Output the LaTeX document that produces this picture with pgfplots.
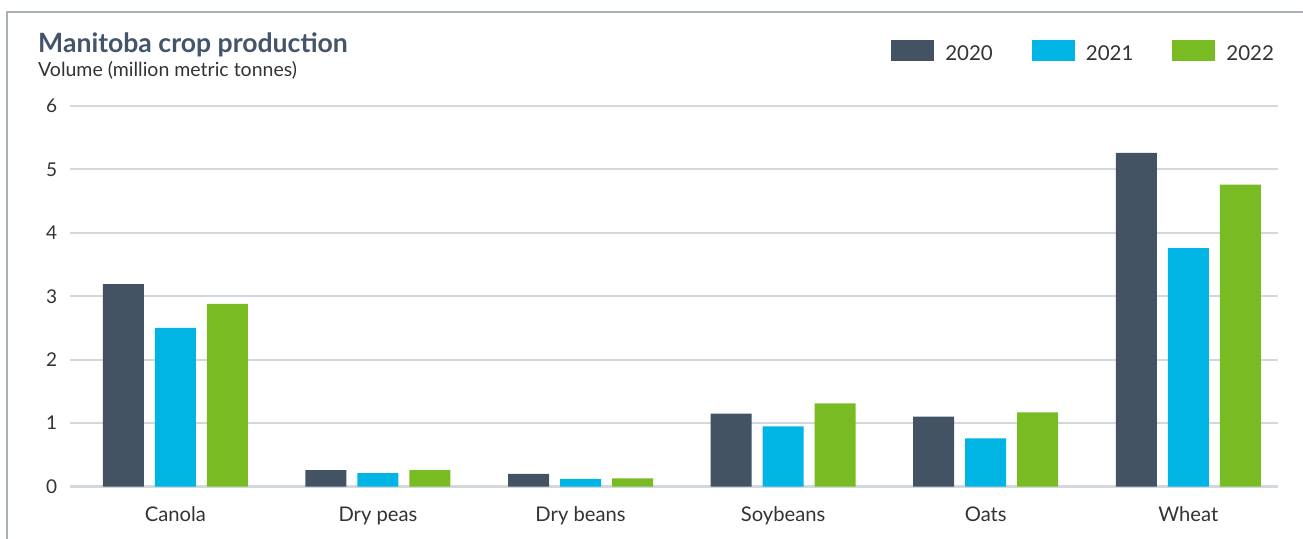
\documentclass[border=0pt]{standalone}
\usepackage{pgfplots}
\pgfplotsset{compat=1.18}
\usepackage{fontspec}
\setmainfont{Lato}
\definecolor{c20}{HTML}{435363}
\definecolor{c21}{HTML}{00B4E4}
\definecolor{c22}{HTML}{78BB22}
\definecolor{gridc}{HTML}{D2D9DE}
\definecolor{framec}{HTML}{A9B1B8}
\definecolor{titlec}{HTML}{44546A}
\definecolor{txt}{HTML}{333333}
\pgfplotsset{mylegend/.style={legend image code/.code={\fill[##1] (0bp,-7bp) rectangle (43bp,14bp);}}}
\begin{document}
\begin{tikzpicture}
\useasboundingbox (0bp,0bp) rectangle (1303bp,539bp);
\draw[framec, line width=1.5bp] (7bp,0bp) -- (7bp,527bp) -- (1303bp,527bp);
\node[anchor=base west, inner sep=0pt, font=\fontsize{26.6bp}{30bp}\selectfont\bfseries, text=titlec] at (38bp,486bp) {Manitoba crop production};
\node[anchor=base west, inner sep=0pt, font=\fontsize{19.5bp}{22bp}\selectfont, text=txt] at (38bp,462bp) {Volume (million metric tonnes)};
\begin{axis}[at={(70bp,52.5bp)}, anchor=south west, scale only axis,
  width=1208.5bp, height=380.5bp,
  ybar=11bp, bar width=41bp,
  xmin=-0.52, xmax=5.445, ymin=0, ymax=6,
  xtick={0,...,5}, xticklabels={Canola,Dry peas,Dry beans,Soybeans,Oats,Wheat},
  ytick={0,...,6},
  axis line style={draw=none}, tick style={draw=none},
  ymajorgrids, grid style={gridc, line width=2bp},
  axis on top=false,
  clip=false,
  tick label style={font=\fontsize{19bp}{22bp}\selectfont, text=txt},
  /pgf/number format/assume math mode=true,
  yticklabel style={anchor=east, inner sep=0pt, xshift=-12.7bp},
  xticklabel style={anchor=base, inner sep=0pt, yshift=-31bp, font=\fontsize{20.2bp}{22bp}\selectfont},
  legend cell align=left,
  legend style={draw=none, fill=none, inner sep=0pt, outer sep=0pt, legend columns=3,
    at={(rel axis cs:1,1)}, anchor=south east, xshift=-4.5bp, yshift=44bp,
    nodes={inner sep=0pt, font=\fontsize{20.5bp}{24bp}\selectfont, text=txt},
    /tikz/every odd column/.append style={column sep=11bp},
    /tikz/every even column/.append style={column sep=39bp}},
]
\addplot[fill=c20, draw=none, mylegend] coordinates {(0,3.19) (1,0.26) (2,0.20) (3,1.15) (4,1.10) (5,5.26)};
\addplot[fill=c21, draw=none, mylegend] coordinates {(0,2.50) (1,0.21) (2,0.12) (3,0.95) (4,0.76) (5,3.76)};
\addplot[fill=c22, draw=none, mylegend] coordinates {(0,2.88) (1,0.26) (2,0.13) (3,1.31) (4,1.17) (5,4.76)};
\legend{2020,2021,2022}
\end{axis}
\end{tikzpicture}
\end{document}
